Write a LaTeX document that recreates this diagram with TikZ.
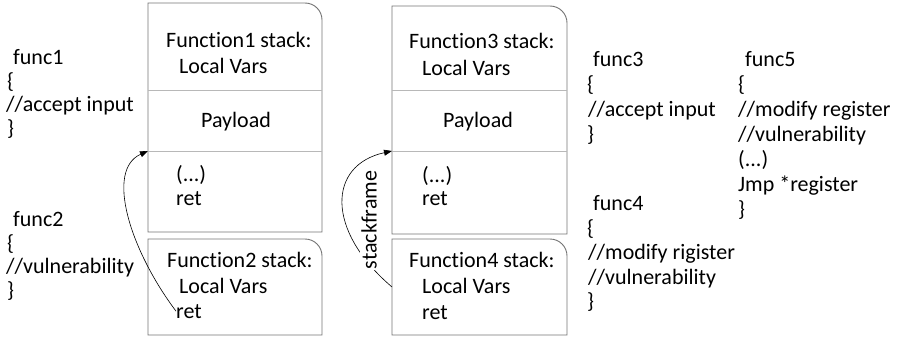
\documentclass[tikz,border=0pt]{standalone}
\usepackage{fontspec}
\setmainfont{Carlito}[Ligatures={NoCommon}]
\usetikzlibrary{arrows.meta}
\begin{document}
\begin{tikzpicture}[x=1pt,y=-1pt,
  txt/.style={font=\fontsize{22}{25.5}\selectfont, inner sep=0pt, anchor=base west},
  boxline/.style={draw=black!55, line width=0.9pt},
  divline/.style={draw=black!28, line width=0.8pt},
  link/.style={draw=black, line width=0.6pt, -{Triangle[length=8pt,width=6pt]}},
  lab/.style={font=\fontsize{22}{25.5}\selectfont, inner sep=1pt, fill=white, rotate=90}]
\useasboundingbox (0,0) rectangle (900,340);
% boxes
\draw[boxline] (148,232) -- (148,3) -- (305,3) .. controls (314.4,3) and (322,10.6) .. (322,20) -- (322,232) -- cycle;
\draw[divline] (148,90) -- (322,90);
\draw[divline] (148,151) -- (322,151);
\draw[boxline] (148,335) -- (148,239) -- (305,239) .. controls (314.4,239) and (322,246.6) .. (322,256) -- (322,335) -- cycle;
\draw[boxline] (392,234) -- (392,6) -- (550,6) .. controls (559.4,6) and (567,13.6) .. (567,23) -- (567,234) -- cycle;
\draw[divline] (392,90) -- (567,90);
\draw[divline] (392,151) -- (567,151);
\draw[boxline] (392,335) -- (392,239) -- (550,239) .. controls (559.4,239) and (567,246.6) .. (567,256) -- (567,335) -- cycle;
\coordinate (d1) at (148,151);
\coordinate (d3) at (392,151);
\coordinate (b4w) at (392,287);
% box texts
\node[txt] (f1s) at (166,47) {Function1 stack:};
\node[txt] (lv1) at (179,73) {Local Vars};
\node[txt] (pl1) at (201,127) {Payload};
\node[txt] (dt1) at (176,181) {(...)};
\node[txt] (rt1) at (176,205) {ret};
\node[txt] (f2s) at (167,267) {Function2 stack:};
\node[txt] (lv2) at (179,293) {Local Vars};
\node[txt] (rt2) at (176,318) {ret};
\node[txt] (f3s) at (409,48) {Function3 stack:};
\node[txt] (lv3) at (422,75) {Local Vars};
\node[txt] (pl3) at (443,127) {Payload};
\node[txt] (dt3) at (422,182) {(...)};
\node[txt] (rt3) at (422,205) {ret};
\node[txt] (f4s) at (409,267) {Function4 stack:};
\node[txt] (lv4) at (422,293) {Local Vars};
\node[txt] (rt4) at (422,319) {ret};
% left code
\node[txt] (c1a) at (13,64) {func1};
\node[txt] (c1b) at (7,88) {\{};
\node[txt] (c1c) at (6,111) {//accept input};
\node[txt] (c1d) at (7,135) {\}};
\node[txt] (c2a) at (13,226) {func2};
\node[txt] (c2b) at (7,250) {\{};
\node[txt] (c2c) at (6,273) {//vulnerability};
\node[txt] (c2d) at (7,297) {\}};
% right code
\node[txt] (c3a) at (593,66) {func3};
\node[txt] (c3b) at (587,91) {\{};
\node[txt] (c3c) at (588,116) {//accept input};
\node[txt] (c3d) at (587,141) {\}};
\node[txt] (c4a) at (593,210) {func4};
\node[txt] (c4b) at (587,235) {\{};
\node[txt] (c4c) at (588,259) {//modify rigister};
\node[txt] (c4d) at (588,284) {//vulnerability};
\node[txt] (c4e) at (587,308) {\}};
\node[txt] (c5a) at (745,66) {func5};
\node[txt] (c5b) at (738,91) {\{};
\node[txt] (c5c) at (738,116) {//modify register};
\node[txt] (c5d) at (738,141) {//vulnerability};
\node[txt] (c5e) at (738,166) {(...)};
\node[txt] (c5f) at (738,191) {Jmp *register};
\node[txt] (c5g) at (738,216) {\}};
% connectors
\draw[link] (rt2.west) .. controls (130,250) and (105,170) .. (d1);
\draw[link] (b4w) .. controls (325,230) and (328,165) .. (d3);
\node[lab] (sf) at (369,220) {stackframe};
\end{tikzpicture}
\end{document}
